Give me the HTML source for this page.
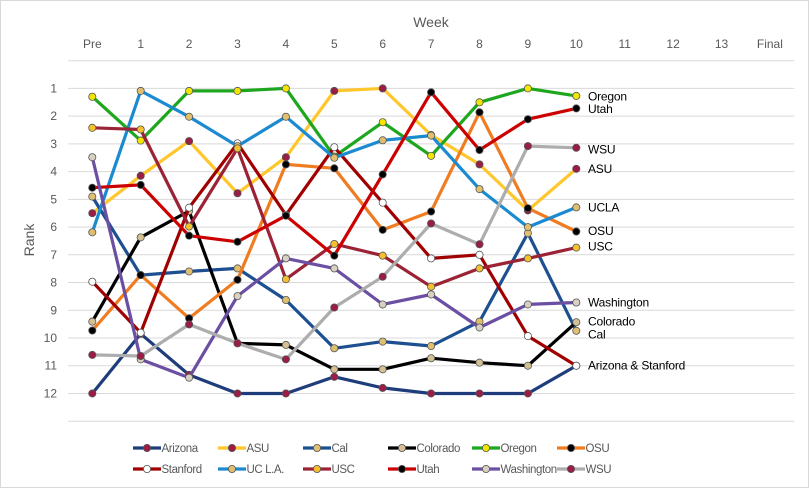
<!DOCTYPE html>
<html><head><meta charset="utf-8"><style>
body{margin:0;background:#fff;}
svg{display:block;font-family:"Liberation Sans",sans-serif;}
</style></head><body>
<svg id="chart" width="809" height="488">
<rect x="0.5" y="0.5" width="808" height="487" fill="#fff" stroke="#d9d9d9"/>
<text x="431" y="27" font-size="14" fill="#595959" text-anchor="middle">Week</text>
<text x="34" y="240" font-size="14" fill="#595959" text-anchor="middle" transform="rotate(-90 34 240)">Rank</text>
<g id="grid"></g><g id="series"></g><g id="labels"></g><g id="legend"></g>
</svg>
<script>
const weeks = ["Pre","1","2","3","4","5","6","7","8","9","10","11","12","13","Final"];
const rankTicks = [1,2,3,4,5,6,7,8,9,10,11,12];
const teams = ["Arizona","ASU","Cal","Colorado","Oregon","OSU","Stanford","UC L.A.","USC","Utah","Washington","WSU"];
const arizona = [12,9.85,11.33,12,12,11.4,11.8,12,12,12,11.0];
const asu = [5.5,4.15,2.9,4.78,3.48,1.09,1.0,2.68,3.74,5.4,3.9];
const cal = [4.9,7.73,7.6,7.49,8.63,10.37,10.13,10.29,9.41,6.22,9.74];
const colorado = [9.41,6.37,5.42,10.19,10.25,11.13,11.13,10.73,10.89,11.0,9.43];
const oregon = [1.3,2.88,1.09,1.09,1.0,3.46,2.22,3.43,1.5,1.0,1.27];
const osu = [9.73,7.73,9.29,7.9,3.74,3.88,6.1,5.44,1.86,5.32,6.16];
const stanford = [7.97,9.81,5.3,2.98,5.56,3.12,5.12,7.13,7.0,9.93,11.0];
const ucla = [6.19,1.09,2.02,3.08,2.02,3.5,2.87,2.7,4.63,6.0,5.29];
const usc = [2.42,2.48,5.98,3.16,7.88,6.61,7.03,8.15,7.49,7.13,6.74];
const utah = [4.58,4.48,6.31,6.53,5.59,7.03,4.1,1.14,3.22,2.11,1.72];
const washington = [3.48,10.77,11.43,8.49,7.13,7.49,8.79,8.43,9.62,8.79,8.72];
const wsu = [10.61,10.65,9.51,10.19,10.77,8.9,7.79,5.87,6.62,3.08,3.14];
const endLabels = ["Oregon","Utah","WSU","ASU","UCLA","OSU","USC","Washington","Colorado","Cal","Arizona & Stanford"];
const endLabelRanks = [1.3,1.75,3.2,3.9,5.3,6.15,6.7,8.72,9.4,9.87,11.0];

const series=[arizona,asu,cal,colorado,oregon,osu,stanford,ucla,usc,utah,washington,wsu];
const lineColors=["#1f3d7a","#ffc72c","#1d4f91","#000000","#1ea71e","#f07c22","#a00000","#1b8ad0","#9b2335","#cc0000","#6b4fa3","#adadad"];
const markColors=["#9b1c45","#9b1c45","#e0c070","#d4c090","#f2e600","#000000","#ffffff","#e0c070","#f5c030","#000000","#d8d0c0","#9b1c45"];
const NS="http://www.w3.org/2000/svg";
const plotLeft=68.1,step=48.4,topY=60.7,rstep=27.73;
const xPos=i=>plotLeft+step*(i+0.5);
const yPos=r=>topY+r*rstep;
function mk(tag,attrs,parent){const e=document.createElementNS(NS,tag);for(const k in attrs)e.setAttribute(k,attrs[k]);parent.appendChild(e);return e;}
const grid=document.getElementById('grid');
for(let r=0;r<=13;r++){
  const l=mk('line',{x1:plotLeft,x2:plotLeft+step*15,y1:yPos(r),y2:yPos(r),stroke:'#d9d9d9','stroke-width':1},grid);
  
  
}
rankTicks.forEach(r=>{
  const t=mk('text',{x:57,y:yPos(r)+4,'font-size':12,fill:'#595959','text-anchor':'end'},grid);
  t.textContent=r;
  
  
});
weeks.forEach((w,i)=>{
  const t=mk('text',{x:xPos(i),y:48,'font-size':12,fill:'#595959','text-anchor':'middle'},grid);
  t.textContent=w;
  
  
});
const sg=document.getElementById('series');
series.forEach((d,s)=>{
  const g=mk('g',{},sg);
  
  
  const pts=d.map((v,i)=>xPos(i).toFixed(1)+','+yPos(v).toFixed(1)).join(' ');
  const pl=mk('polyline',{points:pts,fill:'none',stroke:lineColors[s],'stroke-width':3.2,'stroke-linejoin':'round'},g);
  
  
  d.forEach((v,i)=>{
    const c=mk('circle',{cx:xPos(i),cy:yPos(v),r:3.6,fill:markColors[s],stroke:'#555','stroke-width':0.8},g);
    
    
  });
});
const lg=document.getElementById('labels');
endLabels.forEach((t,i)=>{
  const e=mk('text',{x:588,y:yPos(endLabelRanks[i])+4,'font-size':12,'letter-spacing':'-0.2',fill:'#000'},lg);
  e.textContent=t;
  
  
});
const leg=document.getElementById('legend');
const colX=[133,218,303,388,472,557],rowY=[448,469];
teams.forEach((t,i)=>{
  const x=colX[i%6],y=rowY[Math.floor(i/6)];
  const g=mk('g',{},leg);
  
  
  mk('line',{x1:x,x2:x+28,y1:y,y2:y,stroke:lineColors[i],'stroke-width':3.2},g);
  mk('circle',{cx:x+14,cy:y,r:3.6,fill:markColors[i],stroke:'#555','stroke-width':0.8},g);
  const e=mk('text',{x:x+28.5,y:y+4,'font-size':11.5,'letter-spacing':'-0.4',fill:'#595959'},g);
  e.textContent=t;
});
</script>
</body></html>
